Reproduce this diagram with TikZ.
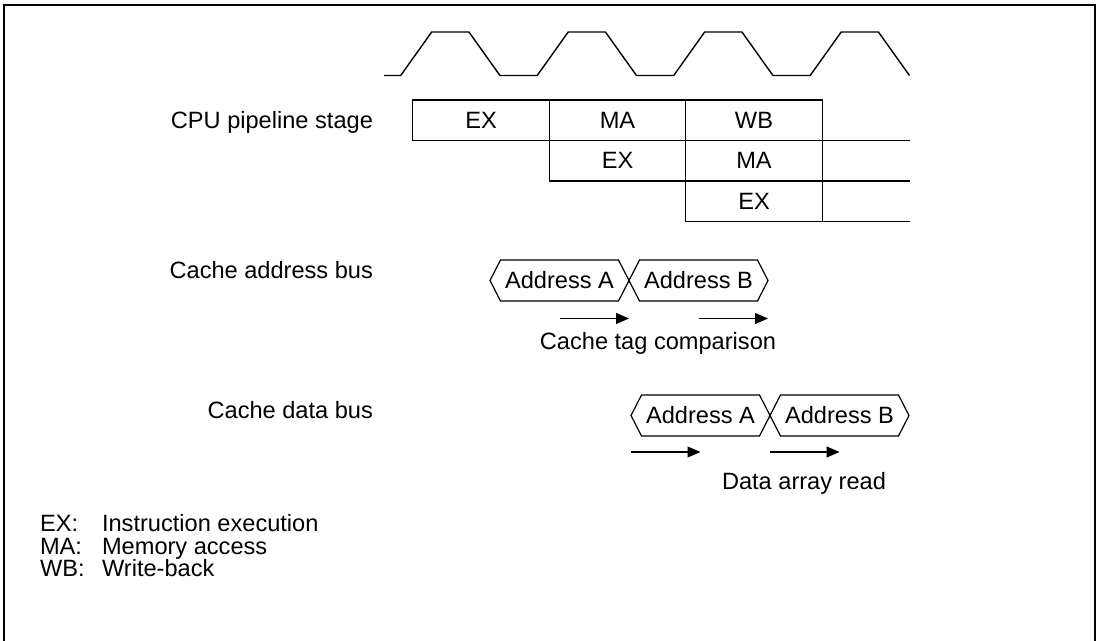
\documentclass[tikz,border=0pt]{standalone}
\usepackage{fontspec}
\setmainfont{Liberation Sans}
\usepackage{tikz}
\usetikzlibrary{arrows.meta}

\tikzset{
    stagecell/.style={draw, line width=0.7pt, minimum width=68.25pt, minimum height=20.25pt, inner sep=0pt, outer sep=0pt},
    busslot/.style={minimum width=69.5pt, minimum height=20.5pt, inner sep=0pt, outer sep=0pt},
    busline/.style={line width=0.6pt, line join=miter},
    span/.style={-{Triangle[length=6.5pt, width=5.5pt]}, line width=0.6pt},
}

\begin{document}
\begin{tikzpicture}[x=0.5pt, y=-0.5pt, font=\fontsize{11.8}{14}\selectfont]

    \useasboundingbox (0,0) rectangle (1099,641);

    % Frame (bottom edge cut off)
    \draw[line width=1pt] (3.5,641) |- (1094.5,5) -- (1094.5,641);

    % Clock
    \draw[line width=0.7pt] (384,75.5)
        \foreach \i in {0,...,3} {
            -- ({400.7+136.5*\i},75.5) -- ++(31,-43.5) -- ++(37.25,0) -- ++(31,43.5)
        };

    % CPU pipeline stage
    \node[anchor=base east] (cpulbl) at (380,128.5) {CPU pipeline stage};

    \node[stagecell] at (481,120.25) (ex1) {EX};
    \node[stagecell] at (617.5,120.25) (ma1) {MA};
    \node[stagecell] at (754,120.25) (wb1) {WB};
    \node[stagecell] at (617.5,160.75) (ex2) {EX};
    \node[stagecell] at (754,160.75) (ma2) {MA};
    \node[stagecell] at (754,201.25) (ex3) {EX};

    \coordinate (tabend) at (910,0);
    \foreach \c in {wb1, ma2, ex3} {
        \draw[line width=0.7pt] (\c.south east) -- (\c.south east -| tabend);
    }

    % Cache address bus
    \node[anchor=base east] (adrlbl) at (380,279) {Cache address bus};

    \node[busslot] at (559.5,280.5) (adrA) {Address A};
    \node[busslot] at (698.5,280.5) (adrB) {Address B};

    \coordinate (tagrow) at (0,318.5);
    \draw[span] (adrA.south |- tagrow) -- (adrA.east |- tagrow);
    \draw[span] (adrB.south |- tagrow) -- (adrB.east |- tagrow);
    \node[anchor=base] (taglbl) at (658,349.3) {Cache tag comparison};

    % Cache data bus
    \node[anchor=base east] (datlbl) at (380,418.3) {Cache data bus};

    \node[busslot] at (700.5,415.5) (datA) {Address A};
    \node[busslot] at (839.5,415.5) (datB) {Address B};

    \coordinate (readrow) at (0,452);
    \draw[span] (datA.west |- readrow) -- (datA.south |- readrow);
    \draw[span] (datB.west |- readrow) -- (datB.south |- readrow);
    \node[anchor=base] (readlbl) at (804,489.3) {Data array read};

    % Hexagon outlines
    \foreach \n in {adrA, adrB, datA, datB} {
        \draw[busline] (\n.west) -- ([xshift=5.25pt]\n.north west) -- ([xshift=-5.25pt]\n.north east)
            -- (\n.east) -- ([xshift=-5.25pt]\n.south east) -- ([xshift=5.25pt]\n.south west) -- cycle;
    }

    % Legend
    \node[anchor=base west] (exkey) at (33,532) {EX:};
    \node[anchor=base west] (makey) at (33,554.5) {MA:};
    \node[anchor=base west] (wbkey) at (33,577) {WB:};
    \node[anchor=base west] (extxt) at (95,532) {Instruction execution};
    \node[anchor=base west] (matxt) at (95,554.5) {Memory access};
    \node[anchor=base west] (wbtxt) at (95,577) {Write-back};

\end{tikzpicture}
\end{document}
